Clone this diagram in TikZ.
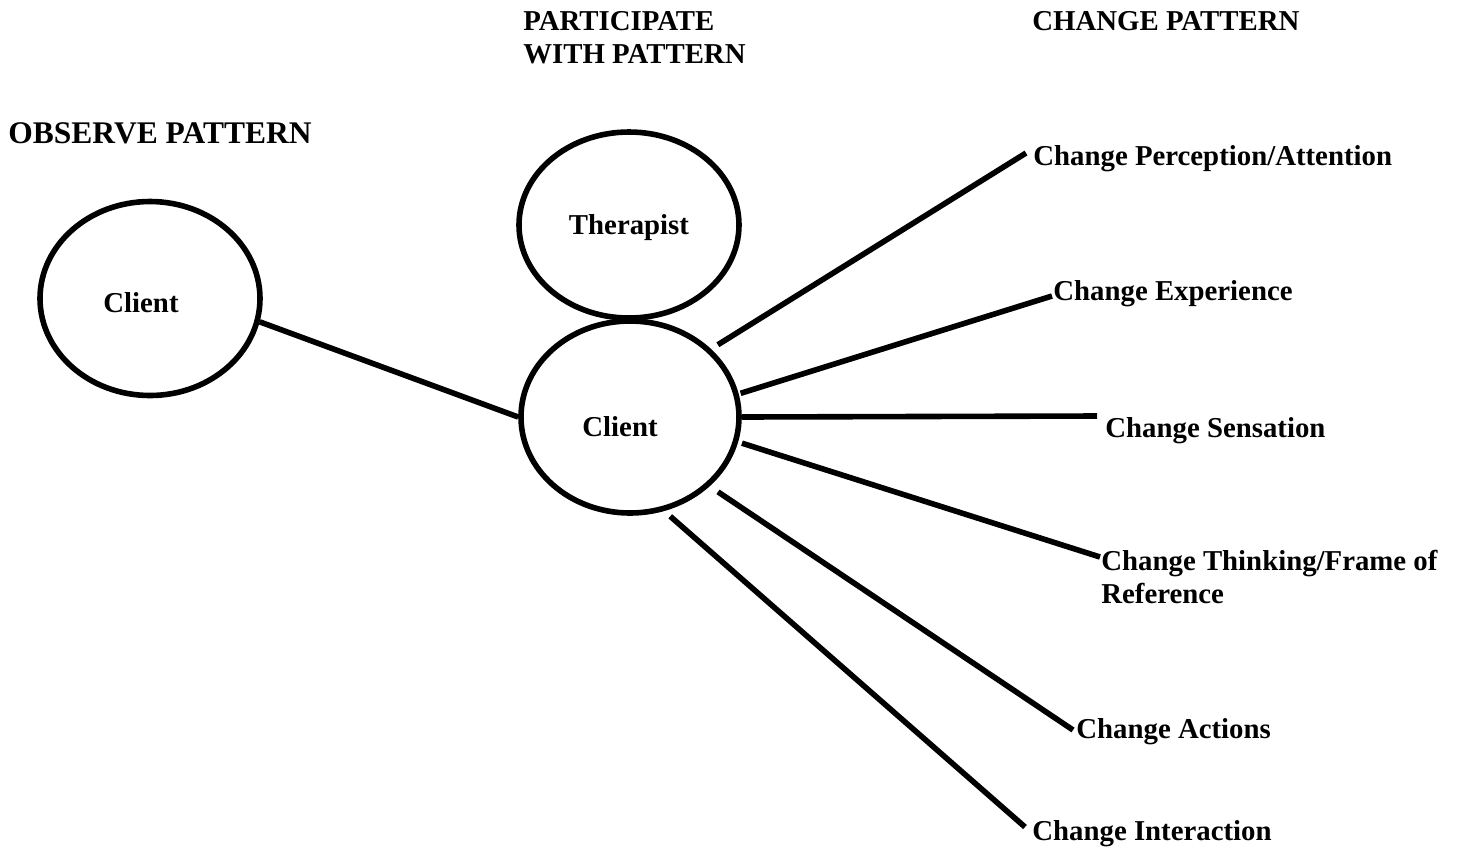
\documentclass[tikz,border=0pt]{standalone}
\usepackage{fontspec}
\setmainfont{Liberation Serif}
\usetikzlibrary{shapes.geometric}
\begin{document}
\begin{tikzpicture}[x=0.5pt,y=-0.5pt,
  blob/.style={draw=black, line width=2.8pt, ellipse, inner sep=0pt},
  conn/.style={draw=black, line width=2.8pt},
  lbl/.style={inner sep=0pt, font=\bfseries\fontsize{14.4}{16.5}\selectfont, anchor=base west, align=left},
  inlbl/.style={inner sep=0pt, font=\bfseries\fontsize{14.4}{16.5}\selectfont, anchor=base},
  bighead/.style={inner sep=0pt, font=\bfseries\fontsize{15.75}{16.5}\selectfont, anchor=base west}
]
\useasboundingbox (0,0) rectangle (1463,848);

% headings (multi-line nodes are placed by the baseline of their last line)
\node[bighead] (h1) at (8,143) {OBSERVE PATTERN};
\node[lbl] (h2) at (523,63) {PARTICIPATE\\WITH PATTERN};
\node[lbl] (h3) at (1032,30) {CHANGE PATTERN};

% ellipses
\node[blob, minimum width=110pt, minimum height=97pt] (lc) at (150,298.5) {};
\node[inlbl] (lct) at (141,312) {Client};
\node[blob, minimum width=110pt, minimum height=93pt] (th) at (629,225) {};
\node[inlbl] (tht) at (629,234) {Therapist};
\node[blob, minimum width=109pt, minimum height=96pt] (cc) at (630,417) {};
\node[inlbl] (cct) at (620,436) {Client};

% change labels
\node[lbl] (t2) at (1033,165) {Change Perception/Attention};
\node[lbl] (t3) at (1053,300) {Change Experience};
\node[lbl] (t4) at (1105,437) {Change Sensation};
\node[lbl] (t5) at (1101,603) {Change Thinking/Frame of\\Reference};
\node[lbl] (t6) at (1076,738) {Change Actions};
\node[lbl] (t7) at (1032,840) {Change Interaction};

% line ends
\coordinate (e2) at (1026,153);
\coordinate (e3) at (1052,296);
\coordinate (e4) at (1097,416);
\coordinate (e5) at (1100,557);
\coordinate (e6) at (1073,730);
\coordinate (e7) at (1025,827);

% connectors
\draw[conn] (lc.-12) -- (cc.180);
\draw[conn, shorten <=4pt] (cc.40) -- (e2);
\draw[conn, shorten <=1pt] (cc.12) -- (e3);
\draw[conn] (cc.0) -- (e4);
\draw[conn, shorten <=2pt] (cc.-13) -- (e5);
\draw[conn, shorten <=5pt] (cc.-41) -- (e6);
\draw[conn, shorten <=4pt] (cc.-70) -- (e7);
\end{tikzpicture}
\end{document}
